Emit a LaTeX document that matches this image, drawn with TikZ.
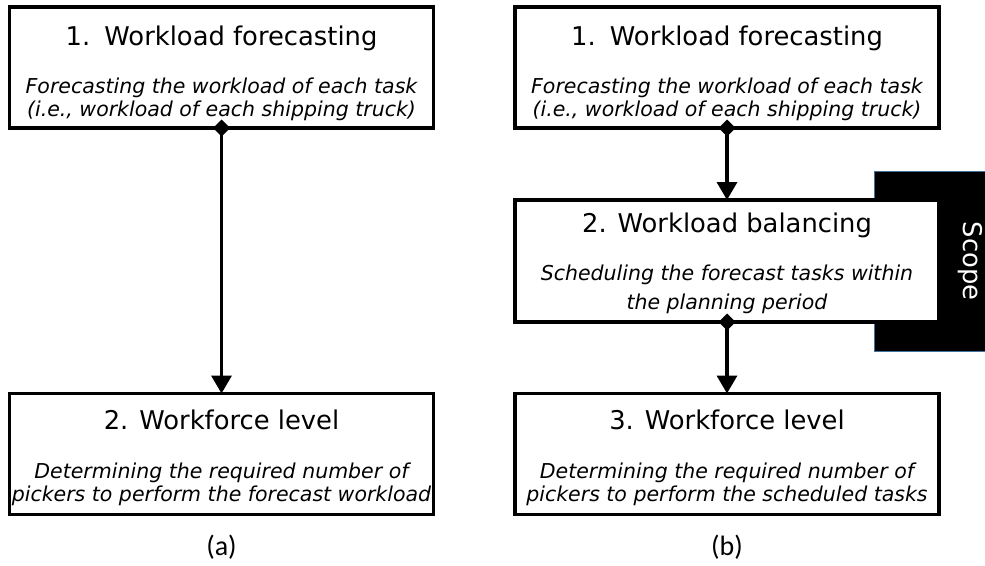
\documentclass[tikz,border=0pt]{standalone}
\usepackage{fontspec}
\setmainfont{DejaVu Sans}
\newfontfamily\calib{Carlito}
\usetikzlibrary{arrows.meta}
\definecolor{scopeedge}{RGB}{65,113,156}
\begin{document}
\begin{tikzpicture}[x=1pt,y=-1pt,
  box/.style={draw=black, fill=white, line width=3.5pt, rectangle, minimum width=424pt, minimum height=121pt, inner sep=0pt, outer sep=0pt},
  ttl/.style={anchor=base, font=\fontsize{25.8}{30}\selectfont, inner sep=0pt},
  desc/.style={anchor=base, font=\fontsize{20.5}{24}\selectfont\itshape, inner sep=0pt},
  flow/.style={line width=3.5pt, {Diamond[length=17pt,width=17pt]}-{Triangle[length=18pt,width=20pt]}, shorten <=-8.5pt},
  lbl/.style={font=\calib\fontsize{28}{32}\selectfont, inner sep=0pt}
]
\useasboundingbox (0,0) rectangle (985,565);

% (a)
\node[box] (f1) at (221.5,67.5) {};
\node[ttl] (f1t) at (221.5,45) {1.\hspace{0.55em}Workload forecasting};
\node[desc] (f1d1) at (221.5,93) {Forecasting the workload of each task};
\node[desc] (f1d2) at (221.5,116) {(i.e., workload of each shipping truck)};

\node[box] (w1) at (221.5,454) {};
\node[ttl] (w1t) at (221.5,429) {2. Workforce level};
\node[desc] (w1d1) at (221.5,478) {Determining the required number of};
\node[desc] (w1d2) at (221.5,501) {pickers to perform the forecast workload};

\draw[flow] (f1.south) -- (w1.north);
\node[lbl] (la) at (221.5,547) {(a)};

% (b)
\node[fill=black, draw=scopeedge, line width=0.75pt, minimum width=112pt, minimum height=180pt, inner sep=0pt, outer sep=0pt] (scope) at (930,261) {};
\node[text=white, rotate=-90, font=\fontsize{25.8}{30}\selectfont, inner sep=0pt] (scopet) at (970,261) {Scope};

\node[box] (f2) at (727,67.5) {};
\node[ttl] (f2t) at (727,45) {1.\hspace{0.55em}Workload forecasting};
\node[desc] (f2d1) at (727,93) {Forecasting the workload of each task};
\node[desc] (f2d2) at (727,116) {(i.e., workload of each shipping truck)};

\node[box, minimum height=122pt] (b2) at (727,261) {};
\node[ttl] (b2t) at (727,232) {2. Workload balancing};
\node[desc] (b2d1) at (727,280) {Scheduling the forecast tasks within};
\node[desc] (b2d2) at (727,309) {the planning period};

\node[box] (w2) at (727,454) {};
\node[ttl] (w2t) at (727,429) {3. Workforce level};
\node[desc] (w2d1) at (727,478) {Determining the required number of};
\node[desc] (w2d2) at (727,501) {pickers to perform the scheduled tasks};

\draw[flow] (f2.south) -- (b2.north);
\draw[flow] (b2.south) -- (w2.north);
\node[lbl] (lb) at (727,547) {(b)};
\end{tikzpicture}
\end{document}
